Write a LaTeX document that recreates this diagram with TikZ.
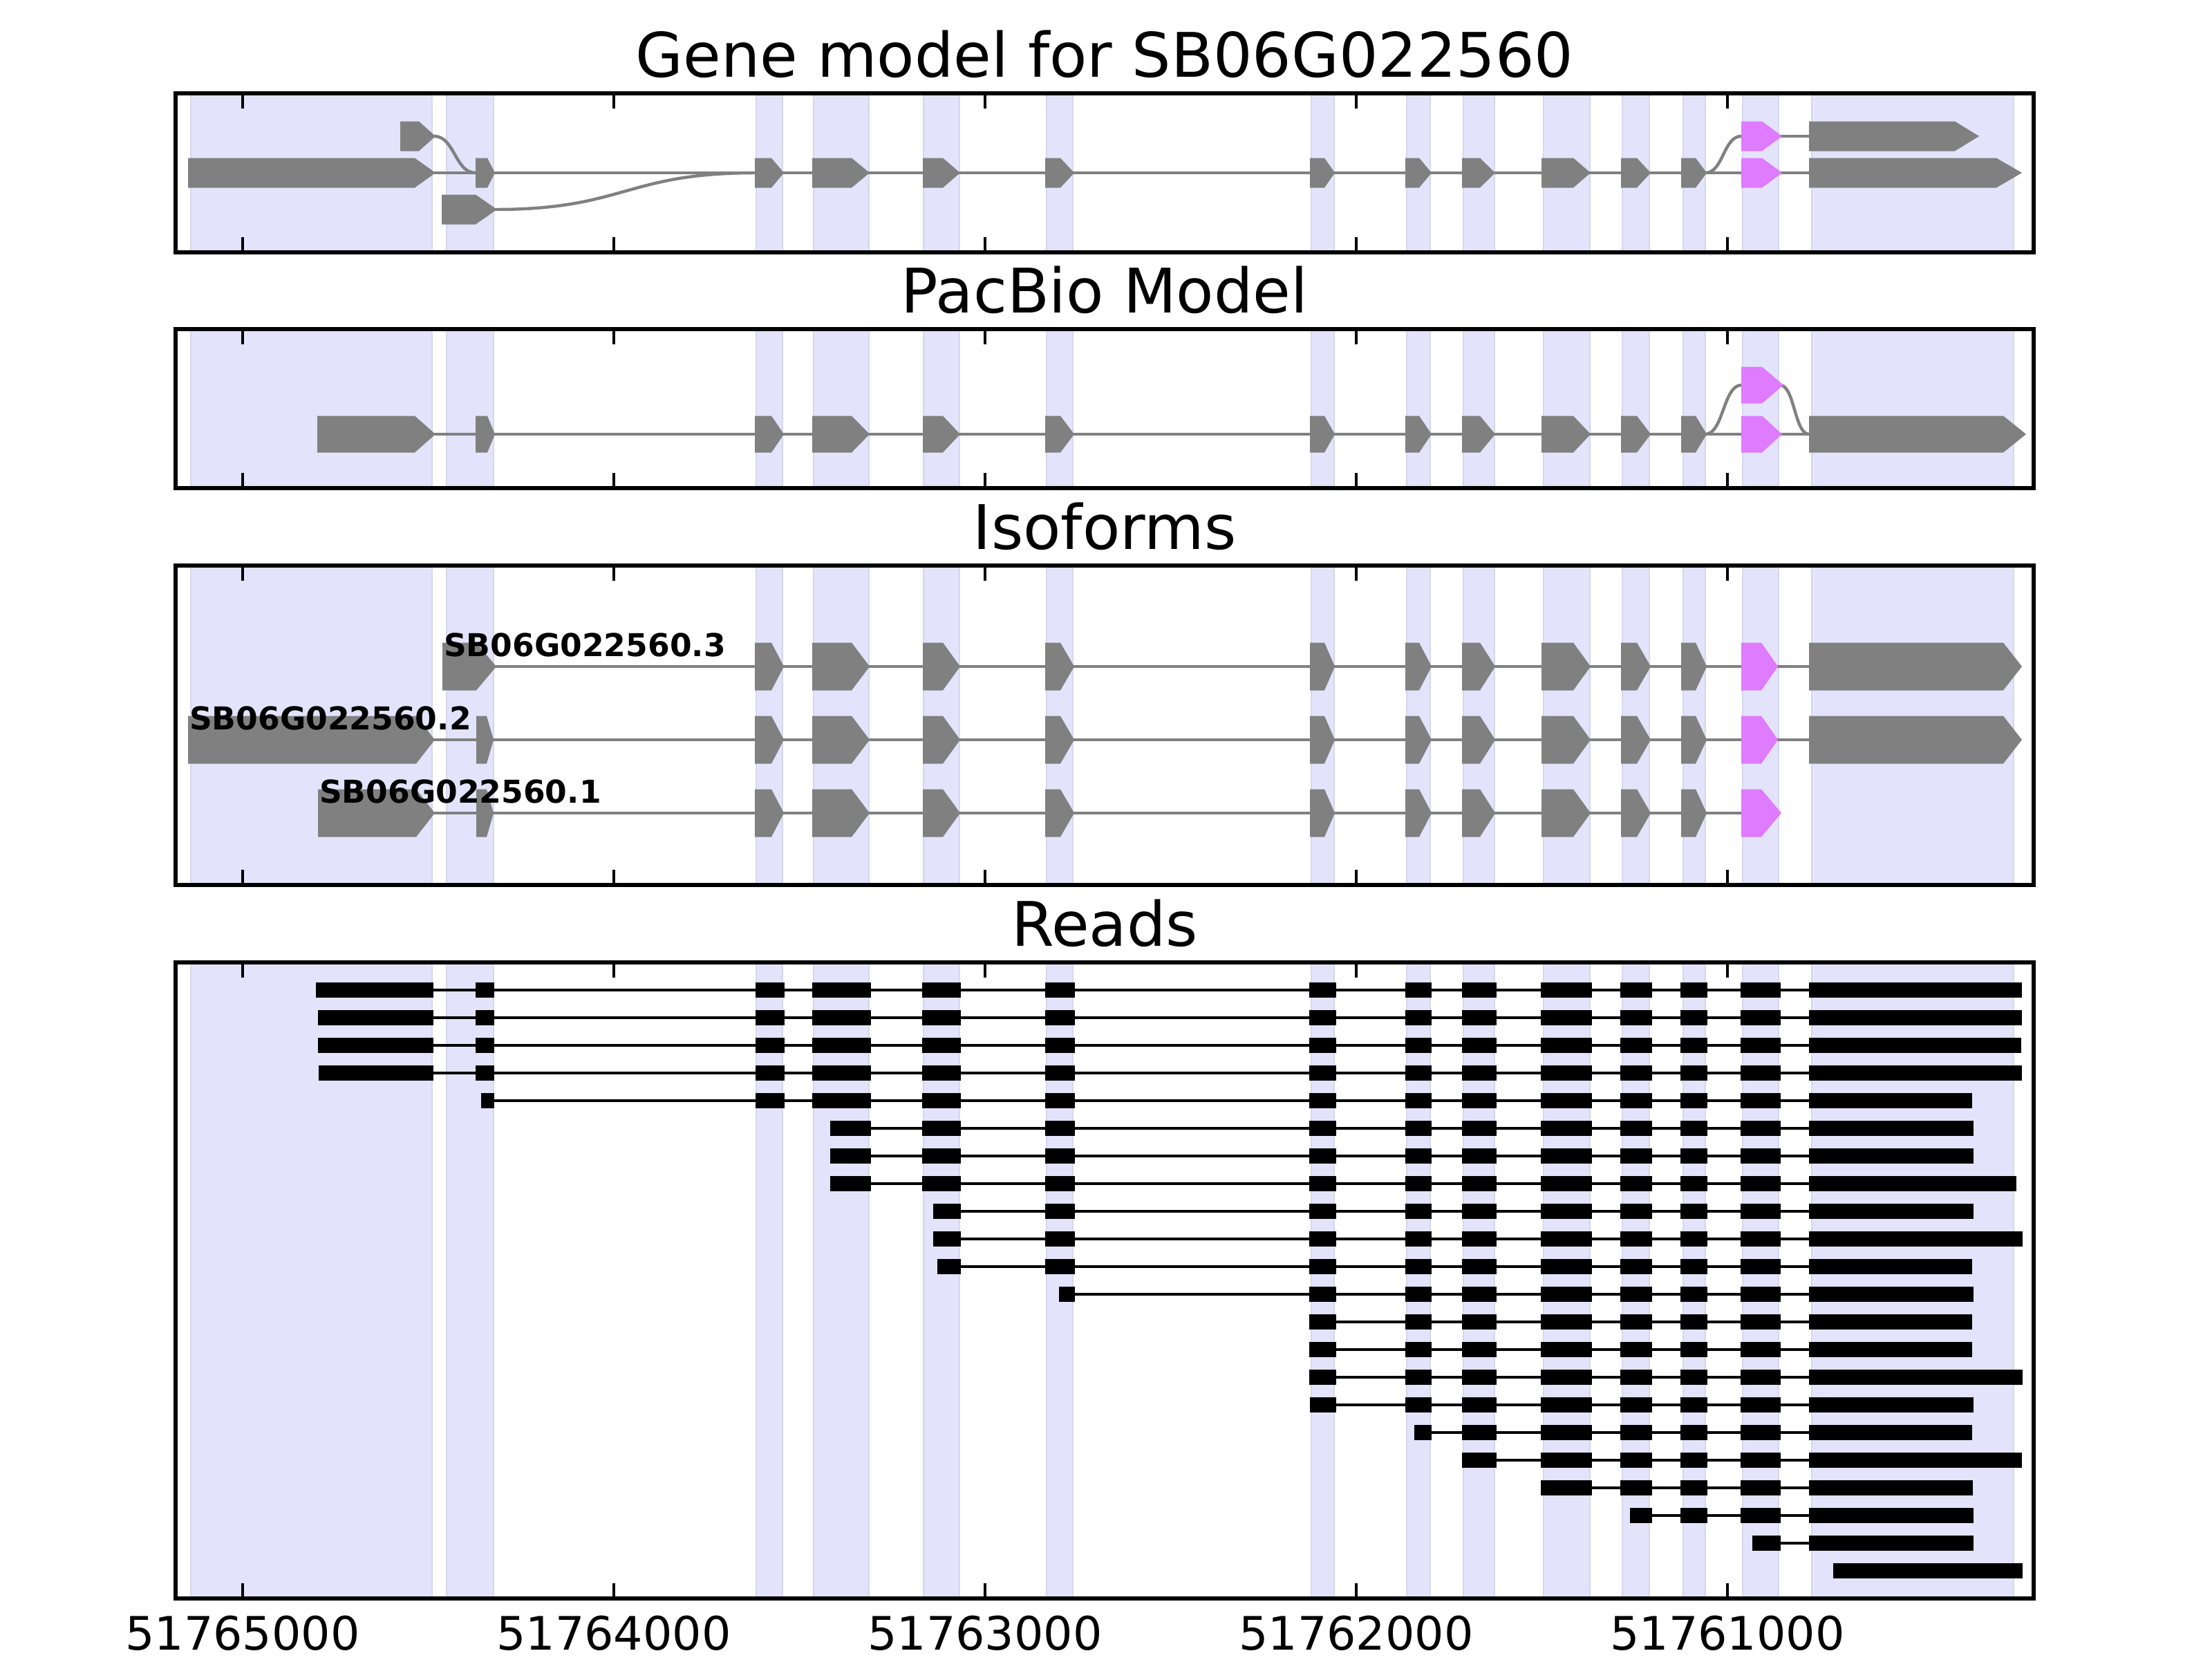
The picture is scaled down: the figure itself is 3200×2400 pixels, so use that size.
\documentclass[tikz,border=0pt]{standalone}
\usepackage{fontspec}
\setmainfont{DejaVu Sans}
\definecolor{lav}{RGB}{227,227,252}
\definecolor{lavedge}{RGB}{214,214,236}
\definecolor{ggray}{RGB}{128,128,128}
\definecolor{gmag}{RGB}{222,123,255}
\tikzset{
  intron/.style={draw=ggray, line width=0.8pt},
  readline/.style={draw=black, line width=0.75pt},
  readblk/.style={fill=black},
  shadebox/.style={fill=lav, draw=lavedge, line width=0.5pt},
  tickl/.style={draw=black, line width=0.6pt},
  axframe/.style={draw=black, line width=1pt},
  ttl/.style={font=\fontsize{16}{19}\selectfont, inner sep=0pt},
  isolab/.style={font=\fontsize{8.2}{10}\selectfont\bfseries, inner sep=0pt},
  ticklab/.style={font=\fontsize{12}{14}\selectfont, inner sep=0pt}
}
\newcommand{\exn}[6]{\fill[#6] (#1,#4-#5) -- (#2,#4-#5) -- (#3,#4) -- (#2,#4+#5) -- (#1,#4+#5) -- cycle;}
\newcommand{\sigcurve}[4]{\draw[intron] (#1,#2) .. controls ({(#1+#3)/2},#2) and ({(#1+#3)/2},#4) .. (#3,#4);}
\def\shadelist{276/625,646/714,1094/1132,1177/1257,1336/1388,1514/1552,1897/1930,2035/2069,2117/2162,2233/2300,2347/2386,2435/2467,2521/2573,2621/2913}
\def\midexons{1092/1116/1134,1175/1232/1258,1335/1364/1389,1512/1534/1554,1895/1916/1931,2033/2053/2071,2115/2141/2163,2230/2276/2301,2345/2368/2388,2432/2453/2469}
\def\tickxs{351,888,1425,1962,2499}
\def\readblocks{1/457/627,2/688/715,3/1093/1135,4/1175/1260,5/1334/1390,6/1512/1555,7/1894/1933,8/2033/2071,9/2115/2165,10/2229/2303,11/2344/2390,12/2431/2470,13/2518/2576,14/2617/2925}
\newcommand{\shadepanel}[2]{\foreach \a/\b in \shadelist {\filldraw[shadebox] (\a,#1) rectangle (\b,#2);}}
\newcommand{\framepanel}[2]{%
  \foreach \t in \tickxs {\draw[tickl] (\t,#1) -- (\t,#1+22); \draw[tickl] (\t,#2) -- (\t,#2-22);}
  \draw[axframe] (254,#1) rectangle (2942,#2);}
\newcommand{\readtrack}[4]{%
  \draw[readline] (#3,#1) -- (#4,#1);
  \foreach \k/\l/\r in \readblocks {%
    \ifnum\k<#2\relax\else
      \ifnum\k=#2\relax\edef\myL{#3}\else\edef\myL{\l}\fi
      \ifnum\k=14\relax\edef\myR{#4}\else\edef\myR{\r}\fi
      \fill[readblk] (\myL,#1-11) rectangle (\myR,#1+11);
    \fi}}
\begin{document}
\begin{tikzpicture}[x=0.18pt,y=-0.18pt]
\useasboundingbox (0,0) rectangle (3200,2400);
\fill[white] (0,0) rectangle (3200,2400);
% ---------- Panel 1: gene model
\shadepanel{135}{365}
\draw[intron] (600,250) -- (2617,250);
\draw[intron] (2575,197) -- (2617,197);
\sigcurve{628}{197}{688}{250}
\sigcurve{716}{303}{1093}{250}
\sigcurve{2467}{250}{2519}{197}
\exn{272}{600}{630}{250}{21.5}{ggray}
\exn{579}{606}{630}{197}{21.5}{ggray}
\exn{639}{688}{719}{303}{21.5}{ggray}
\exn{688}{705}{716}{250}{21.5}{ggray}
\foreach \a/\b/\c in \midexons {\exn{\a}{\b}{\c}{250}{21.5}{ggray}}
\exn{2519}{2549}{2578}{197}{21.5}{gmag}
\exn{2519}{2549}{2578}{250}{21.5}{gmag}
\exn{2617}{2828}{2863}{197}{21.5}{ggray}
\exn{2617}{2888}{2925}{250}{21.5}{ggray}
\framepanel{135}{365}
\node[ttl, anchor=base] (title1) at (1598,111) {Gene model for SB06G022560};
% ---------- Panel 2: PacBio
\shadepanel{476}{706}
\draw[intron] (600,628) -- (2617,628);
\sigcurve{2467}{628}{2519}{557}
\sigcurve{2575}{557}{2617}{628}
\exn{459}{600}{630}{628}{26.5}{ggray}
\exn{688}{705}{716}{628}{26.5}{ggray}
\foreach \a/\b/\c in \midexons {\exn{\a}{\b}{\c}{628}{26.5}{ggray}}
\exn{2519}{2549}{2580}{557}{26.5}{gmag}
\exn{2519}{2549}{2578}{628}{26.5}{gmag}
\exn{2617}{2898}{2931}{628}{26.5}{ggray}
\framepanel{476}{706}
\node[ttl, anchor=base] (title2) at (1598,452) {PacBio Model};
% ---------- Panel 3: isoforms
\shadepanel{818}{1280}
\draw[intron] (700,964) -- (2617,964);
\draw[intron] (600,1070) -- (2617,1070);
\draw[intron] (600,1176) -- (2519,1176);
\exn{640}{689}{718}{964}{34.5}{ggray}
\foreach \a/\b/\c in \midexons {\exn{\a}{\b}{\c}{964}{34.5}{ggray}}
\exn{2519}{2548}{2572}{964}{34.5}{gmag}
\exn{2617}{2898}{2925}{964}{34.5}{ggray}
\exn{272}{602}{629}{1070}{34.5}{ggray}
\exn{689}{704}{714}{1070}{34.5}{ggray}
\foreach \a/\b/\c in \midexons {\exn{\a}{\b}{\c}{1070}{34.5}{ggray}}
\exn{2519}{2548}{2572}{1070}{34.5}{gmag}
\exn{2617}{2898}{2925}{1070}{34.5}{ggray}
\exn{460}{602}{629}{1176}{34.5}{ggray}
\exn{689}{704}{714}{1176}{34.5}{ggray}
\foreach \a/\b/\c in \midexons {\exn{\a}{\b}{\c}{1176}{34.5}{ggray}}
\exn{2519}{2548}{2577}{1176}{34.5}{gmag}
\node[isolab, anchor=base west] (iso3) at (641,949) {SB06G022560.3};
\node[isolab, anchor=base west] (iso2) at (273,1055) {SB06G022560.2};
\node[isolab, anchor=base west] (iso1) at (461,1161) {SB06G022560.1};
\framepanel{818}{1280}
\node[ttl, anchor=base] (title3) at (1598,794) {Isoforms};
% ---------- Panel 4: reads
\shadepanel{1392}{2312}
\readtrack{1432}{1}{457}{2925}
\readtrack{1472}{1}{460}{2925}
\readtrack{1512}{1}{460}{2924}
\readtrack{1552}{1}{461}{2925}
\readtrack{1592}{2}{696}{2853}
\readtrack{1632}{4}{1201}{2855}
\readtrack{1672}{4}{1201}{2855}
\readtrack{1712}{4}{1201}{2917}
\readtrack{1752}{5}{1350}{2855}
\readtrack{1792}{5}{1350}{2926}
\readtrack{1832}{5}{1356}{2853}
\readtrack{1872}{6}{1532}{2855}
\readtrack{1912}{7}{1894}{2853}
\readtrack{1952}{7}{1894}{2853}
\readtrack{1992}{7}{1894}{2926}
\readtrack{2032}{7}{1895}{2855}
\readtrack{2072}{8}{2046}{2853}
\readtrack{2112}{9}{2115}{2925}
\readtrack{2152}{10}{2229}{2854}
\readtrack{2192}{11}{2358}{2855}
\readtrack{2232}{13}{2535}{2855}
\readtrack{2272}{14}{2652}{2926}
\framepanel{1392}{2312}
\node[ttl, anchor=base] (title4) at (1598,1368) {Reads};
\node[ticklab, anchor=north] (xl1) at (351,2336) {51765000};
\node[ticklab, anchor=north] (xl2) at (888,2336) {51764000};
\node[ticklab, anchor=north] (xl3) at (1425,2336) {51763000};
\node[ticklab, anchor=north] (xl4) at (1962,2336) {51762000};
\node[ticklab, anchor=north] (xl5) at (2499,2336) {51761000};
\end{tikzpicture}
\end{document}
